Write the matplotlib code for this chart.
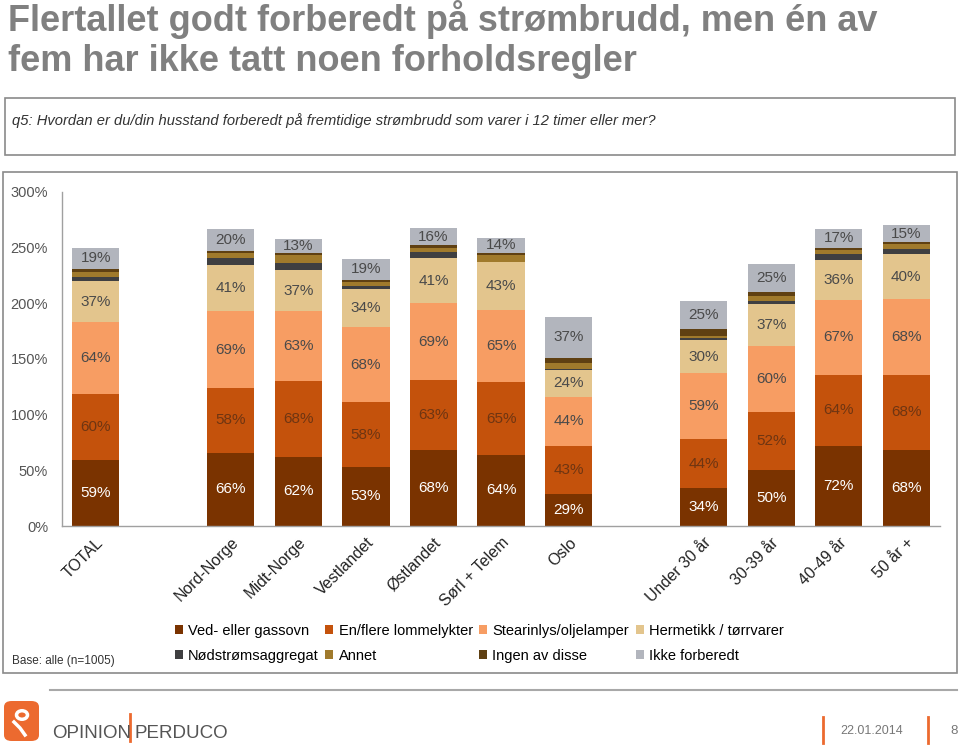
import matplotlib.pyplot as plt
import numpy as np
from matplotlib.patches import Rectangle, FancyBboxPatch, Patch, Circle
from matplotlib.lines import Line2D

plt.rcParams['font.family'] = ['Liberation Sans', 'DejaVu Sans']

# data (percent of respondents, multiple answers allowed)
cats = ['TOTAL', 'Nord-Norge', 'Midt-Norge', 'Vestlandet', 'Østlandet', 'Sørl + Telem',
        'Oslo', 'Under 30 år', '30-39 år', '40-49 år', '50 år +']
slots = [0, 2, 3, 4, 5, 6, 7, 9, 10, 11, 12]

ved = [59, 66, 62, 53, 68, 64, 29, 34, 50, 72, 68]
lommelykt = [60, 58, 68, 58, 63, 65, 43, 44, 52, 64, 68]
stearin = [64, 69, 63, 68, 69, 65, 44, 59, 60, 67, 68]
hermetikk = [37, 41, 37, 34, 41, 43, 24, 30, 37, 36, 40]
nodstrom = [4, 7, 6, 3, 5, 0, 1, 2, 3, 5, 5]
annet = [4, 4, 7, 3, 4, 6, 5, 2, 5, 4, 4]
ingen = [3, 2, 2, 2, 2, 2, 5, 6, 3, 2, 2]
ikke = [19, 20, 13, 19, 16, 14, 37, 25, 25, 17, 15]

series = [ved, lommelykt, stearin, hermetikk, nodstrom, annet, ingen, ikke]
names = ['Ved- eller gassovn', 'En/flere lommelykter', 'Stearinlys/oljelamper',
         'Hermetikk / tørrvarer', 'Nødstrømsaggregat', 'Annet', 'Ingen av disse',
         'Ikke forberedt']
colors = ['#7a3300', '#c4520c', '#f79d63', '#e3c58d', '#3f3f41', '#a07a2c', '#5f4012', '#b2b5bd']
txtcol = ['white', '#6e3512', '#4a4a4a', '#4a4a4a', None, None, None, '#4a4a4a']
labelled = [True, True, True, True, False, False, False, True]

fig = plt.figure(figsize=(9.6, 7.45), dpi=100)

# title
fig.text(8/960, 1-31/745, 'Flertallet godt forberedt på strømbrudd, men én av',
         fontsize=26, weight='bold', color='#808080', va='baseline')
fig.text(8/960, 1-71/745, 'fem har ikke tatt noen forholdsregler',
         fontsize=26, weight='bold', color='#808080', va='baseline')

# question box
fig.patches.append(Rectangle((5/960, 1-155/745), 950/960, 57/745, transform=fig.transFigure,
                             fill=False, edgecolor='#8a8a8a', lw=1.2))
fig.text(12/960, 1-121/745,
         'q5: Hvordan er du/din husstand forberedt på fremtidige strømbrudd som varer i 12 timer eller mer?',
         fontsize=10.6, style='italic', color='#333333', va='center')

# chart box
fig.patches.append(Rectangle((3/960, 1-673/745), 954/960, 501/745, transform=fig.transFigure,
                             fill=False, edgecolor='#8a8a8a', lw=1.2))

ax = fig.add_axes([62/960, 1-526/745, 878/960, 334/745])
x = np.array(slots, dtype=float)
bottom = np.zeros(len(cats))
for vals, col, tc, lab in zip(series, colors, txtcol, labelled):
    v = np.array(vals, dtype=float)
    ax.bar(x, v, bottom=bottom, width=0.7, color=col, edgecolor='none')
    if lab:
        for xi, b, h in zip(x, bottom, v):
            ax.text(xi, b + h/2, f'{int(h)}%', ha='center', va='center', fontsize=11, color=tc)
    bottom += v

ax.set_xlim(-0.5, 12.5)
ax.set_ylim(0, 300)
ax.set_yticks(np.arange(0, 301, 50))
ax.set_yticklabels([f'{t}%' for t in range(0, 301, 50)], fontsize=10.5, color='#555555')
ax.tick_params(axis='y', length=0, pad=10)
ax.set_xticks([])
for s in ['top', 'right']:
    ax.spines[s].set_visible(False)
for s in ['left', 'bottom']:
    ax.spines[s].set_color('#a0a0a0')
    ax.spines[s].set_linewidth(1)

for xi, c in zip(x, cats):
    ax.text(xi, -8, c, rotation=45, ha='right', va='top', rotation_mode='anchor',
            fontsize=11.5, color='#222222', clip_on=False)

# legend
order = [0, 4, 1, 5, 2, 6, 3, 7]
handles = [Patch(facecolor=colors[i], edgecolor='none', label=names[i]) for i in order]
fig.legend(handles=handles, ncol=4, frameon=False, loc='upper left',
           bbox_to_anchor=(175/960, 1-624/745), fontsize=10.5,
           handlelength=0.55, handleheight=0.55, handletextpad=0.35,
           columnspacing=0.45, labelspacing=0.75, borderaxespad=0, borderpad=0)
fig.text(12/960, 1-661/745, 'Base: alle (n=1005)', fontsize=8.5, color='#333333', va='center')

# footer
fig.lines.append(Line2D([50/960, 957/960], [1-690/745, 1-690/745], transform=fig.transFigure,
                        color='#a8a8a8', lw=1.5))
fig.patches.append(FancyBboxPatch((4/960, 1-741/745), 35/960, 40/745, transform=fig.transFigure,
                                  boxstyle='round,pad=0,rounding_size=0.008',
                                  facecolor='#ec6a2f', edgecolor='none'))
fig.patches.append(Circle((22/960, 1-715/745), 5.5/960, transform=fig.transFigure,
                          fill=False, edgecolor='white', lw=2.5))
fig.lines.append(Line2D([14/960, 20/960, 25/960], [1-722/745, 1-728/745, 1-735/745],
                        transform=fig.transFigure, color='white', lw=2.5))
fig.text(52/960, 1-738/745, 'OPINION', fontsize=13.5, color='#555555', va='baseline')
fig.lines.append(Line2D([130/960, 130/960], [1-741/745, 1-714/745], transform=fig.transFigure,
                        color='#ec6a2f', lw=2))
fig.text(134/960, 1-738/745, 'PERDUCO', fontsize=13.5, color='#555555', va='baseline')
fig.lines.append(Line2D([823/960, 823/960], [1-743/745, 1-717/745], transform=fig.transFigure,
                        color='#ec6a2f', lw=2))
fig.text(840/960, 1-731/745, '22.01.2014', fontsize=9, color='#777777', va='center')
fig.lines.append(Line2D([928/960, 928/960], [1-743/745, 1-717/745], transform=fig.transFigure,
                        color='#ec6a2f', lw=2))
fig.text(950/960, 1-731/745, '8', fontsize=9.5, color='#777777', va='center')

fig.savefig('out.png', dpi=100)
